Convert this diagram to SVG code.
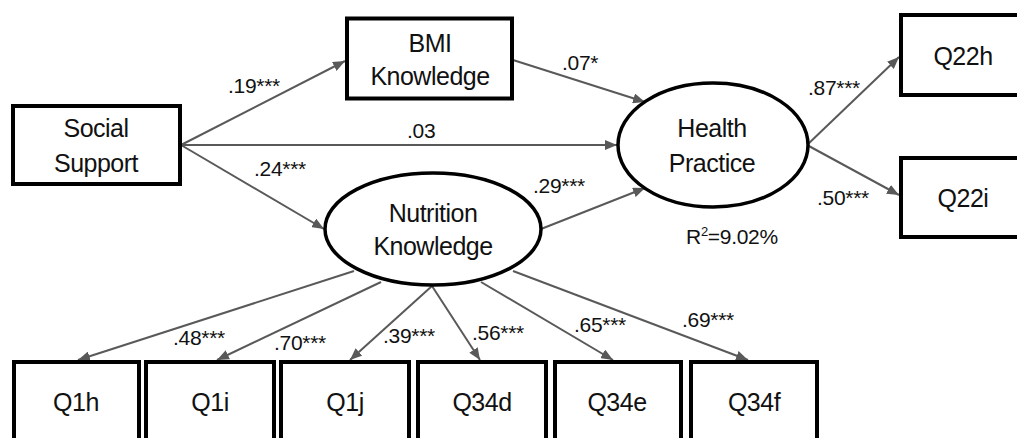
<svg xmlns="http://www.w3.org/2000/svg" width="1017" height="438" viewBox="0 0 1017 438">
<style>
.box{fill:#fff;stroke:#000;stroke-width:4}
.ell{fill:#fff;stroke:#000;stroke-width:3.5}
.nt{font-family:"Liberation Sans",Arial,sans-serif;font-size:25px;letter-spacing:-0.5px;fill:#111;text-anchor:middle}
.lb{font-family:"Liberation Sans",Arial,sans-serif;font-size:21px;letter-spacing:-0.3px;fill:#111}
.ln{stroke:#595959;stroke-width:2;fill:none;marker-end:url(#ah)}
</style>
<defs>
<marker id="ah" viewBox="0 0 12 10" markerUnits="userSpaceOnUse" markerWidth="12" markerHeight="10" refX="12" refY="5" orient="auto">
<path d="M0,0 L12,5 L0,10 z" fill="#595959"/>
</marker>
</defs>
<rect width="1017" height="438" fill="#fff"/>
<g id="connectors">
<line class="ln" x1="181" y1="145" x2="345" y2="61"/>
<line class="ln" x1="181" y1="145" x2="617" y2="145"/>
<line class="ln" x1="181" y1="145" x2="324" y2="229"/>
<line class="ln" x1="513" y1="60" x2="645" y2="102"/>
<line class="ln" x1="541" y1="229" x2="645" y2="188"/>
<line class="ln" x1="807" y1="145" x2="899" y2="57"/>
<line class="ln" x1="807" y1="145" x2="899" y2="195"/>
<line class="ln" x1="354" y1="271" x2="78" y2="360"/>
<line class="ln" x1="381" y1="282" x2="217" y2="360"/>
<line class="ln" x1="432" y1="286" x2="350" y2="360"/>
<line class="ln" x1="432" y1="286" x2="480" y2="360"/>
<line class="ln" x1="481" y1="282" x2="613" y2="360"/>
<line class="ln" x1="513" y1="271" x2="748" y2="360"/>
<text class="lb" x="228" y="93">.19***</text>
<text class="lb" x="254" y="176">.24***</text>
<text class="lb" x="407" y="138">.03</text>
<text class="lb" x="562" y="70">.07*</text>
<text class="lb" x="533" y="193">.29***</text>
<text class="lb" x="808" y="95">.87***</text>
<text class="lb" x="817" y="205">.50***</text>
<text class="lb" x="173" y="345">.48***</text>
<text class="lb" x="274" y="350">.70***</text>
<text class="lb" x="383" y="343">.39***</text>
<text class="lb" x="472" y="340">.56***</text>
<text class="lb" x="574" y="332">.65***</text>
<text class="lb" x="682" y="327">.69***</text>
</g>
<g id="social-support">
<rect class="box" x="13" y="106" width="167" height="78"/>
<text class="nt" x="96" y="137">Social</text>
<text class="nt" x="96" y="172">Support</text>
</g>
<g id="bmi-knowledge">
<rect class="box" x="347" y="18.5" width="165" height="80"/>
<text class="nt" x="430" y="52">BMI</text>
<text class="nt" x="430" y="85">Knowledge</text>
</g>
<g id="nutrition-knowledge">
<ellipse class="ell" cx="433" cy="229" rx="108" ry="56"/>
<text class="nt" x="433" y="222">Nutrition</text>
<text class="nt" x="433" y="255">Knowledge</text>
</g>
<g id="health-practice">
<ellipse class="ell" cx="713" cy="145" rx="95" ry="62"/>
<text class="nt" x="712" y="137">Health</text>
<text class="nt" x="712" y="172">Practice</text>
<text class="lb" x="686" y="244">R<tspan font-size="13" dy="-8">2</tspan><tspan dy="8">=9.02%</tspan></text>
</g>
<g id="q22h">
<rect class="box" x="901" y="15" width="130" height="80"/>
<text class="nt" x="963" y="65">Q22h</text>
</g>
<g id="q22i">
<rect class="box" x="901" y="158" width="130" height="79"/>
<text class="nt" x="963" y="207">Q22i</text>
</g>
<g id="q1h">
<rect class="box" x="14" y="362" width="125" height="90"/>
<text class="nt" x="76" y="411">Q1h</text>
</g>
<g id="q1i">
<rect class="box" x="146" y="362" width="128" height="90"/>
<text class="nt" x="210" y="411">Q1i</text>
</g>
<g id="q1j">
<rect class="box" x="281" y="362" width="128" height="90"/>
<text class="nt" x="345" y="411">Q1j</text>
</g>
<g id="q34d">
<rect class="box" x="418" y="362" width="128" height="90"/>
<text class="nt" x="482" y="411">Q34d</text>
</g>
<g id="q34e">
<rect class="box" x="555" y="362" width="126" height="90"/>
<text class="nt" x="617" y="411">Q34e</text>
</g>
<g id="q34f">
<rect class="box" x="691" y="362" width="126" height="90"/>
<text class="nt" x="754" y="411">Q34f</text>
</g>
</svg>
